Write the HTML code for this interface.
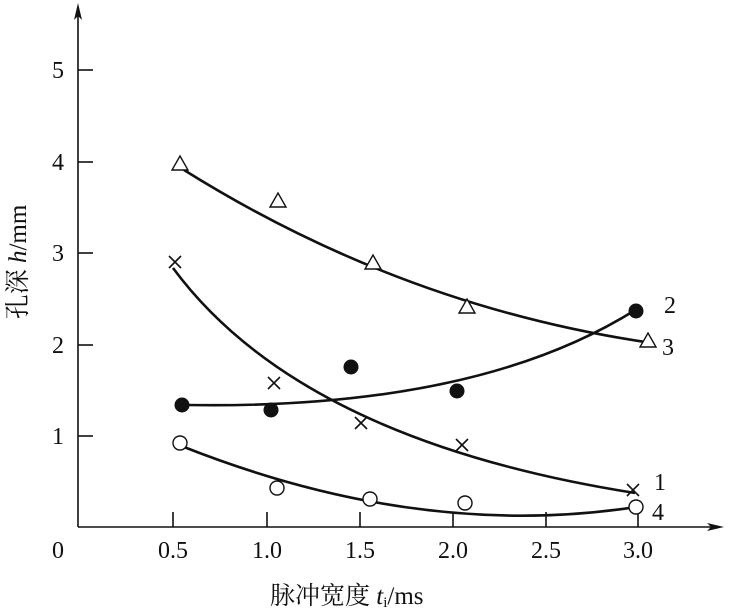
<!DOCTYPE html><html><head><meta charset="utf-8"><style>body{margin:0;background:#fff}svg{display:block}text{font-family:"Liberation Serif","Noto Serif CJK SC",serif;fill:#111}</style></head><body>
<svg width="737" height="612" viewBox="0 0 737 612">
<g stroke="#111" stroke-width="1.6" fill="none">
<line x1="78" y1="527" x2="78" y2="10"/>
<line x1="78" y1="527" x2="715" y2="527"/>
<line x1="78" y1="70" x2="93" y2="70"/><line x1="78" y1="162" x2="93" y2="162"/><line x1="78" y1="253" x2="93" y2="253"/><line x1="78" y1="345" x2="93" y2="345"/><line x1="78" y1="436" x2="93" y2="436"/>
<line x1="173" y1="527" x2="173" y2="512"/><line x1="267" y1="527" x2="267" y2="512"/><line x1="360" y1="527" x2="360" y2="512"/><line x1="453" y1="527" x2="453" y2="512"/><line x1="546" y1="527" x2="546" y2="512"/><line x1="638" y1="527" x2="638" y2="512"/>
</g>
<path d="M78 3 L74 20 L78 16 L82 20Z" fill="#111"/>
<path d="M724 527 L707 523 L711 527 L707 531Z" fill="#111"/>
<g stroke="#111" stroke-width="2.6" fill="none">
<path d="M184 170 Q400 305 645 342"/>
<path d="M173 268 Q300 440 635 493"/>
<path d="M186 405 Q480 410 640 307"/>
<path d="M184 447 Q420 540 636 507"/>
</g>
<g stroke="#111" stroke-width="1.4" fill="#fff">
<path d="M180 156 L188 170 L172 170Z"/><path d="M278 193 L286 207 L270 207Z"/><path d="M373 255 L381 269 L365 269Z"/><path d="M467 299 L475 313 L459 313Z"/><path d="M648 333 L656 347 L640 347Z"/>
<circle cx="180" cy="443" r="7"/><circle cx="277" cy="488" r="7"/><circle cx="370" cy="499" r="7"/><circle cx="465" cy="503" r="7"/><circle cx="636" cy="507" r="7"/>
</g>
<g stroke="#111" stroke-width="1.6">
<path d="M169 256 L181 268 M181 256 L169 268"/><path d="M268 377 L280 389 M280 377 L268 389"/><path d="M355 417 L367 429 M367 417 L355 429"/><path d="M456 439 L468 451 M468 439 L456 451"/><path d="M627 484 L639 496 M639 484 L627 496"/>
</g>
<g fill="#111"><circle cx="182" cy="405" r="7.5"/><circle cx="271" cy="410" r="7.5"/><circle cx="351" cy="367" r="7.5"/><circle cx="457" cy="391" r="7.5"/><circle cx="636" cy="311" r="7.5"/></g>
<g font-size="24">
<text x="52" y="78">5</text><text x="52" y="170">4</text><text x="52" y="261">3</text><text x="52" y="353">2</text><text x="52" y="444">1</text>
<text x="52" y="558">0</text>
<g text-anchor="middle"><text x="173" y="558">0.5</text><text x="267" y="558">1.0</text><text x="360" y="558">1.5</text><text x="453" y="558">2.0</text><text x="546" y="558">2.5</text><text x="638" y="558">3.0</text></g>
<text x="664" y="313">2</text><text x="662" y="355">3</text><text x="654" y="490">1</text><text x="652" y="520">4</text>
</g>
<text x="270" y="604" font-size="25">脉冲宽度 <tspan font-style="italic">t</tspan><tspan font-size="15" dy="3">i</tspan><tspan dy="-3">/ms</tspan></text>
<text transform="translate(26 262) rotate(-90)" text-anchor="middle" font-size="25">孔深 <tspan font-style="italic">h</tspan>/mm</text>
</svg></body></html>
